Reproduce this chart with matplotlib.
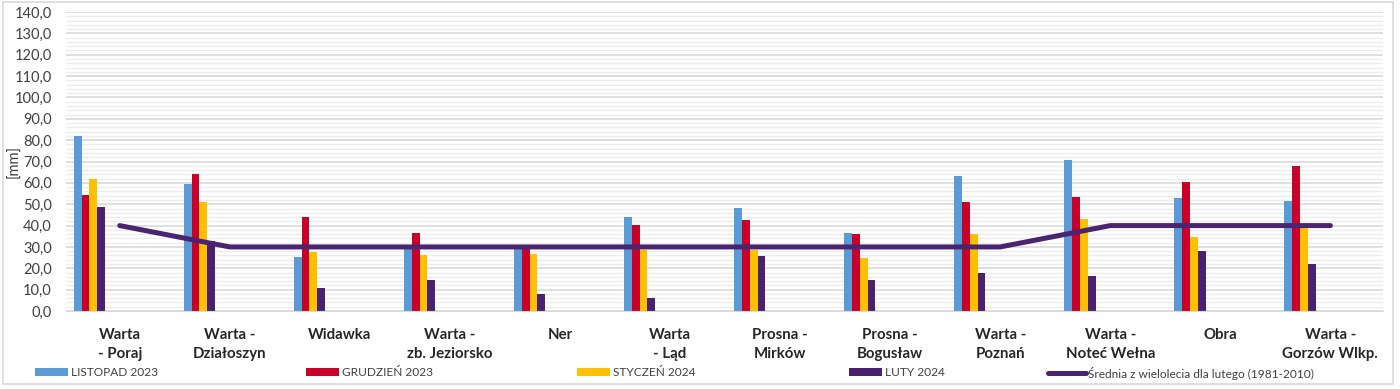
import numpy as np
import matplotlib.pyplot as plt
from matplotlib.ticker import MultipleLocator, FuncFormatter
from matplotlib.patches import Rectangle

stations = ['Warta\n- Poraj', 'Warta -\nDziałoszyn', 'Widawka', 'Warta -\nzb. Jeziorsko', 'Ner',
            'Warta\n- Ląd', 'Prosna -\nMirków', 'Prosna -\nBogusław', 'Warta -\nPoznań',
            'Warta -\nNoteć Wełna', 'Obra', 'Warta -\nGorzów Wlkp.']
listopad_2023 = [81.8, 59.7, 25.5, 30.3, 29.6, 43.9, 48.2, 36.4, 63.3, 70.9, 52.8, 51.4]
grudzien_2023 = [54.1, 64.2, 44.0, 36.3, 30.4, 40.2, 42.6, 35.9, 51.0, 53.5, 60.5, 68.1]
styczen_2024 = [61.6, 51.1, 27.4, 26.3, 26.7, 28.7, 28.6, 24.7, 35.9, 43.0, 34.6, 39.0]
luty_2024 = [48.6, 33.0, 10.7, 14.5, 7.8, 6.1, 25.7, 14.4, 17.9, 16.2, 28.2, 21.9]
srednia_luty = [40, 30, 30, 30, 30, 30, 30, 30, 30, 40, 40, 40]

series = [('LISTOPAD 2023', listopad_2023, '#5B9BD5'),
          ('GRUDZIEŃ 2023', grudzien_2023, '#C8002A'),
          ('STYCZEŃ 2024', styczen_2024, '#FFC000'),
          ('LUTY 2024', luty_2024, '#4A2170')]
line_color = '#4B2470'

plt.rcParams['font.family'] = ['Lato', 'DejaVu Sans']

fig = plt.figure(figsize=(14, 3.89), dpi=100)
ax = fig.add_axes([0.047, 0.2005, 0.941, 0.7685])

x = np.arange(len(stations))
w = 0.071
handles = []
for i, (name, vals, col) in enumerate(series):
    b = ax.bar(x - 0.418 + i * w, vals, w, align='edge', color=col, label=name, zorder=2)
    handles.append(b)
ln, = ax.plot(x, srednia_luty, color=line_color, lw=3.6, solid_capstyle='round',
              solid_joinstyle='round', zorder=3)

ax.set_xlim(-0.49, 11.48)
ax.set_ylim(0, 140)
ax.yaxis.set_major_locator(MultipleLocator(10))
ax.yaxis.set_minor_locator(MultipleLocator(2))
ax.yaxis.set_major_formatter(FuncFormatter(lambda v, p: f'{v:.1f}'.replace('.', ',')))
ax.grid(axis='y', which='major', color='#d9d9d9', lw=1.2, zorder=0)
ax.grid(axis='y', which='minor', color='#ececec', lw=1.0, zorder=0)
for s in ['top', 'right', 'left']:
    ax.spines[s].set_visible(False)
ax.spines['bottom'].set_color('#d9d9d9')
ax.tick_params(axis='both', which='both', length=0)
ax.tick_params(axis='y', labelsize=10.5, labelcolor='#404040', pad=10)
ax.set_xticks(x)
ax.set_xticklabels(stations, fontsize=10.8, fontweight='bold', color='#262626', linespacing=1.45)
ax.tick_params(axis='x', pad=12)
for t in ax.get_xticklabels():
    t.set_verticalalignment('top')
ax.set_ylabel('[mm]', fontsize=10.5, color='#404040')
ax.yaxis.set_label_coords(-0.034, 0.5)

labels = [s[0] for s in series] + ['Średnia z wielolecia dla lutego (1981-2010)']
all_handles = handles + [ln]
xpos = [33, 304, 575, 847, 1046]
hlen = [2.8, 2.8, 2.8, 2.8, 3.2]
for h, lab, xp, hl in zip(all_handles, labels, xpos, hlen):
    fig.legend([h], [lab], loc='center left', bbox_to_anchor=(xp / 1400 - 0.0055, 1 - 373 / 389),
               frameon=False, fontsize=8.6, handlelength=hl, handleheight=0.6,
               handletextpad=0.2, labelcolor='#404040', borderpad=0.3)

fig.patches.append(Rectangle((0.002, 0.012), 0.993, 0.982, transform=fig.transFigure,
                             fill=False, edgecolor='#d9d9d9', lw=1.2))

fig.savefig('out.png', dpi=100)
